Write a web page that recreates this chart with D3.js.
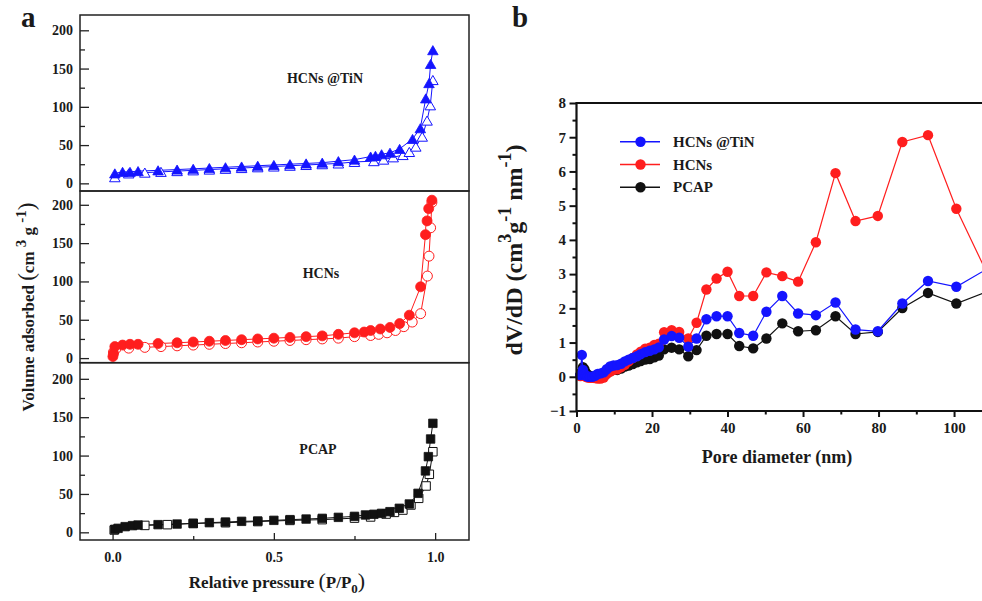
<!DOCTYPE html>
<html><head><meta charset="utf-8">
<script src="https://cdn.jsdelivr.net/npm/d3@7"></script>
<style>
body{margin:0;background:#fff}
svg{display:block}
text{font-family:"Liberation Serif","Times New Roman",serif;font-weight:bold;fill:#1a1a1a}
</style></head><body>
<svg id="c" width="982" height="601"></svg>
<script>
// ---------- Panel a : N2 isotherms ----------
const relPressureTicks = [0, 0.5, 1.0];
const volumeTicks = [0, 50, 100, 150, 200];

const tinAdsP = [0.007,0.031,0.054,0.079,0.141,0.2,0.25,0.3,0.35,0.4,0.45,0.5,0.55,0.6,0.65,0.7,0.75,0.8,0.815,0.834,0.86,0.89,0.93,0.954,0.971,0.981,0.986,0.993];
const tinAdsV = [13,15,15,16,17,18,19,20,21,22,23,24,25,26,27,29,31,35,36,38,40,45,58,72,111,131,156,174];
const tinDesP = [0.007,0.05,0.1,0.15,0.2,0.25,0.3,0.35,0.4,0.45,0.5,0.55,0.6,0.65,0.7,0.75,0.81,0.84,0.87,0.9,0.92,0.94,0.96,0.975,0.985,0.993];
const tinDesV = [8,13,14,15,16,17,18,19,20,21,22,23,24,25,26,28,29,31,34,37,41,48,61,82,102,135];

const hcnAdsP = [0.001,0.003,0.007,0.031,0.054,0.079,0.141,0.2,0.25,0.3,0.35,0.4,0.45,0.5,0.55,0.6,0.65,0.7,0.75,0.78,0.8,0.83,0.86,0.89,0.92,0.955,0.97,0.975,0.98,0.99];
const hcnAdsV = [2,6,15,17,18,18,19,20,21,22,23,24,25,26,27,28,29,31,33,34,36,38,40,45,56,93,161,179,195,206];
const hcnDesP = [0.003,0.01,0.05,0.1,0.15,0.2,0.25,0.3,0.35,0.4,0.45,0.5,0.55,0.6,0.65,0.7,0.75,0.8,0.825,0.851,0.877,0.903,0.929,0.955,0.976,0.981,0.986,0.99];
const hcnDesV = [8,12,13,14,15,16,17,18,19,20,21,22,23,24,25,26,28,29.5,31,33,36,41,47,58,107,133,170,203];

const pcapAdsP = [0.007,0.017,0.039,0.062,0.079,0.141,0.2,0.25,0.3,0.35,0.4,0.45,0.5,0.55,0.6,0.65,0.7,0.75,0.784,0.81,0.834,0.86,0.889,0.92,0.947,0.97,0.979,0.986,0.993];
const pcapAdsV = [3.9,5.2,7.4,8.7,9.5,10,10.8,11.7,12.6,13.4,14.3,14.7,15.6,16.5,17.3,18.2,19.5,20.8,22.6,23.5,24.7,26.9,31.3,36.9,50.8,80,98.6,121.6,142];
const pcapDesP = [0.005,0.1,0.17,0.25,0.35,0.45,0.55,0.65,0.75,0.8,0.848,0.874,0.9,0.925,0.949,0.972,0.982,0.993];
const pcapDesV = [3,9,10,11.5,12.5,14,15.5,16.5,18.5,20,23.8,26,29,35.6,44.3,60.4,75.6,105];

// ---------- Panel b : pore size distribution ----------
const poreDiameter = [1.0,1.4,1.7,2.1,2.5,3.0,3.6,4.2,4.9,5.6,6.4,7.2,8.0,8.9,9.8,10.8,11.8,12.8,13.8,14.9,16.0,17.0,18.2,19.4,20.6,21.8,23.2,25.2,27.2,29.6,31.8,34.4,37.1,40.0,43.1,46.8,50.3,54.5,58.7,63.4,68.6,73.9,79.8,86.3,93.1,100.6,109.5];
const tinPSD  = [0.05,0.64,0.2,0.08,0.03,0.0,0.0,0.0,0.03,0.08,0.1,0.13,0.22,0.3,0.33,0.34,0.38,0.45,0.5,0.55,0.6,0.66,0.72,0.76,0.8,0.86,1.09,1.19,1.14,0.88,1.12,1.68,1.77,1.77,1.28,1.2,1.9,2.36,1.85,1.8,2.17,1.38,1.33,2.14,2.8,2.63,3.2];
const hcnPSD  = [0.02,0.1,0.05,0.02,0.0,-0.02,-0.03,-0.03,-0.04,-0.05,-0.05,-0.02,0.08,0.15,0.2,0.22,0.28,0.35,0.45,0.55,0.65,0.73,0.82,0.85,0.93,0.97,1.3,1.36,1.31,1.12,1.58,2.55,2.87,3.07,2.36,2.36,3.05,2.94,2.78,3.93,5.95,4.55,4.7,6.86,7.06,4.91,2.85];
const pcapPSD = [0.05,0.15,0.28,0.22,0.12,0.06,0.02,0.0,0.02,0.05,0.06,0.08,0.12,0.16,0.2,0.2,0.24,0.3,0.33,0.37,0.42,0.46,0.5,0.52,0.57,0.62,0.8,0.85,0.8,0.6,0.78,1.2,1.25,1.25,0.9,0.83,1.12,1.56,1.33,1.36,1.77,1.25,1.31,2.01,2.45,2.14,2.52];
const psdTicksY = [-1,0,1,2,3,4,5,6,7,8];
const psdTicksX = [0,20,40,60,80,100];

const BLUE = "#1414ff", RED = "#ff1e1e", BLACK = "#111";
const svg = d3.select("#c");

// ===== Panel a =====
const xA = d3.scaleLinear().domain([-0.101, 1.105]).range([80, 469]);
const panels = [
  {name:"HCNs @TiN", adsP:tinAdsP, adsV:tinAdsV, desP:tinDesP, desV:tinDesV, color:BLUE, sym:d3.symbolTriangle, size:48, dom:[-10,220], rng:[191,15], lx:325, ly:83},
  {name:"HCNs", adsP:hcnAdsP, adsV:hcnAdsV, desP:hcnDesP, desV:hcnDesV, color:RED, sym:d3.symbolCircle, size:78, dom:[-6,218], rng:[362.7,191], lx:321, ly:278},
  {name:"PCAP", adsP:pcapAdsP, adsV:pcapAdsV, desP:pcapDesP, desV:pcapDesV, color:BLACK, sym:d3.symbolSquare, size:72, dom:[-10,221], rng:[540,362.7], lx:318, ly:454}
];

panels.forEach((p, i) => {
  const y = d3.scaleLinear().domain(p.dom).range(p.rng);
  const g = svg.append("g");
  const ax = g.append("g").attr("transform","translate(80,0)")
    .call(d3.axisLeft(y).tickValues(volumeTicks).tickSize(-9).tickPadding(7));
  ax.select(".domain").remove();
  ax.selectAll("text").style("font-size","14px").attr("fill","#1a1a1a");
  ax.selectAll("line").attr("stroke","#222").attr("stroke-width",1.3);
  const axm = g.append("g").attr("transform","translate(80,0)")
    .call(d3.axisLeft(y).tickValues([25,75,125,175]).tickSize(-5).tickFormat(""));
  axm.select(".domain").remove();
  axm.selectAll("line").attr("stroke","#222").attr("stroke-width",1.3);

  const line = d3.line().x(d => xA(d[0])).y(d => y(d[1]));
  const des = p.desP.map((v,k) => [v, p.desV[k]]);
  const ads = p.adsP.map((v,k) => [v, p.adsV[k]]);
  g.append("path").attr("d", line(des)).attr("fill","none").attr("stroke",p.color).attr("stroke-width",1);
  g.append("path").attr("d", line(ads)).attr("fill","none").attr("stroke",p.color).attr("stroke-width",1);
  const sym = d3.symbol().type(p.sym).size(p.size);
  const dy = p.sym === d3.symbolTriangle ? 1.5 : 0;
  g.selectAll(".des").data(des).join("path")
    .attr("transform", d => `translate(${xA(d[0])},${y(d[1])+dy})`)
    .attr("d", sym).attr("fill","#fff").attr("stroke",p.color).attr("stroke-width",1);
  g.selectAll(".ads").data(ads).join("path")
    .attr("transform", d => `translate(${xA(d[0])},${y(d[1])+dy})`)
    .attr("d", sym).attr("fill",p.color).attr("stroke",p.color).attr("stroke-width",0.8);
  g.append("text").attr("x",p.lx).attr("y",p.ly).attr("text-anchor","middle")
    .style("font-size","14px").text(p.name);
  g.append("rect").attr("x",80).attr("y",p.rng[1]).attr("width",389).attr("height",p.rng[0]-p.rng[1])
    .attr("fill","none").attr("stroke","#222").attr("stroke-width",1.5);
});

const axA = svg.append("g").attr("transform","translate(0,540)")
  .call(d3.axisBottom(xA).tickValues(relPressureTicks).tickFormat(d3.format(".1f")).tickSize(-7).tickPadding(12));
axA.select(".domain").remove();
axA.selectAll("text").style("font-size","14px").attr("fill","#1a1a1a");
axA.selectAll("line").attr("stroke","#222").attr("stroke-width",1.3);
const axAm = svg.append("g").attr("transform","translate(0,540)")
  .call(d3.axisBottom(xA).tickValues([0.25,0.75]).tickSize(-4).tickFormat(""));
axAm.select(".domain").remove();
axAm.selectAll("line").attr("stroke","#222").attr("stroke-width",1.3);

const tA = svg.append("text").attr("x",277).attr("y",588).attr("text-anchor","middle").style("font-size","17px");
tA.append("tspan").text("Relative pressure ");
tA.append("tspan").style("font-size","22px").style("font-weight","normal").text("(");
tA.append("tspan").text("P/P");
tA.append("tspan").attr("dy",5).style("font-size","13px").text("0");
tA.append("tspan").attr("dy",-5).style("font-size","22px").style("font-weight","normal").text(")");

const yA = svg.append("text").attr("transform","translate(34,307) rotate(-90)").attr("text-anchor","middle").style("font-size","17px");
yA.append("tspan").text("Volume adsorbed ");
yA.append("tspan").style("font-size","23px").style("font-weight","normal").text("(");
yA.append("tspan").text("cm ");
yA.append("tspan").attr("dy",-8).style("font-size","15px").text("3");
yA.append("tspan").attr("dy",8).text(" g ");
yA.append("tspan").attr("dy",-8).style("font-size","15px").text("-1");
yA.append("tspan").attr("dy",8).style("font-size","23px").style("font-weight","normal").text(")");

svg.append("text").attr("x",21).attr("y",27).style("font-size","29px").text("a");
svg.append("text").attr("x",512).attr("y",27).style("font-size","29px").text("b");

// ===== Panel b =====
const xB = d3.scaleLinear().domain([0, 107.4]).range([576.5, 982]);
const yB = d3.scaleLinear().domain([-1, 8]).range([411, 103]);

const gb = svg.append("g");
const series = [
  {name:"PCAP", v:pcapPSD, color:BLACK},
  {name:"HCNs", v:hcnPSD, color:RED},
  {name:"HCNs @TiN", v:tinPSD, color:BLUE}
];
const lineB = d3.line().x(d => xB(d[0])).y(d => yB(d[1]));
series.forEach(s => {
  const pts = poreDiameter.map((x,k) => [x, s.v[k]]);
  gb.append("path").attr("d", lineB(pts)).attr("fill","none").attr("stroke",s.color).attr("stroke-width",1.2);
  gb.selectAll(null).data(pts).join("circle")
    .attr("cx", d => xB(d[0])).attr("cy", d => yB(d[1])).attr("r",5.2).attr("fill",s.color);
});

const byL = svg.append("g").attr("transform","translate(576.5,0)")
  .call(d3.axisLeft(yB).tickValues(psdTicksY).tickSize(7).tickPadding(3.5));
byL.select(".domain").remove();
byL.selectAll("text").style("font-size","15px").attr("fill","#1a1a1a");
byL.selectAll("line").attr("stroke","#111").attr("stroke-width",2);
const byLm = svg.append("g").attr("transform","translate(576.5,0)")
  .call(d3.axisLeft(yB).tickValues(d3.range(-0.5, 8, 1)).tickSize(4).tickFormat(""));
byLm.select(".domain").remove();
byLm.selectAll("line").attr("stroke","#111").attr("stroke-width",2);

const bxB = svg.append("g").attr("transform","translate(0,411)")
  .call(d3.axisBottom(xB).tickValues(psdTicksX).tickSize(6).tickPadding(5));
bxB.select(".domain").remove();
bxB.selectAll("text").style("font-size","15px").attr("fill","#1a1a1a");
bxB.selectAll("line").attr("stroke","#111").attr("stroke-width",2);
const bxBm = svg.append("g").attr("transform","translate(0,411)")
  .call(d3.axisBottom(xB).tickValues([10,30,50,70,90]).tickSize(3.5).tickFormat(""));
bxBm.select(".domain").remove();
bxBm.selectAll("line").attr("stroke","#111").attr("stroke-width",2);

svg.append("path").attr("d","M982,103H576.5V411H982").attr("fill","none").attr("stroke","#111").attr("stroke-width",2.2);

const legend = svg.append("g");
[{name:"HCNs @TiN", color:BLUE},{name:"HCNs", color:RED},{name:"PCAP", color:BLACK}].forEach((s,i) => {
  const yy = 141.7 + i*22.8;
  legend.append("line").attr("x1",620).attr("x2",660).attr("y1",yy).attr("y2",yy).attr("stroke",s.color).attr("stroke-width",1.5);
  legend.append("circle").attr("cx",640.5).attr("cy",yy).attr("r",5.2).attr("fill",s.color);
  legend.append("text").attr("x",673).attr("y",yy+5).style("font-size","15px").text(s.name);
});

svg.append("text").attr("x",777).attr("y",463).attr("text-anchor","middle").style("font-size","18px").text("Pore diameter (nm)");
const yBt = svg.append("text").attr("transform","translate(522,250) rotate(-90)").attr("text-anchor","middle").style("font-size","24px");
yBt.append("tspan").text("dV/dD (cm");
yBt.append("tspan").attr("dy",-11).style("font-size","18px").text("3");
yBt.append("tspan").attr("dy",11).text("g");
yBt.append("tspan").attr("dy",-11).style("font-size","18px").text("-1");
yBt.append("tspan").attr("dy",11).text(" nm");
yBt.append("tspan").attr("dy",-11).style("font-size","18px").text("-1");
yBt.append("tspan").attr("dy",11).text(")");
</script>
</body></html>
